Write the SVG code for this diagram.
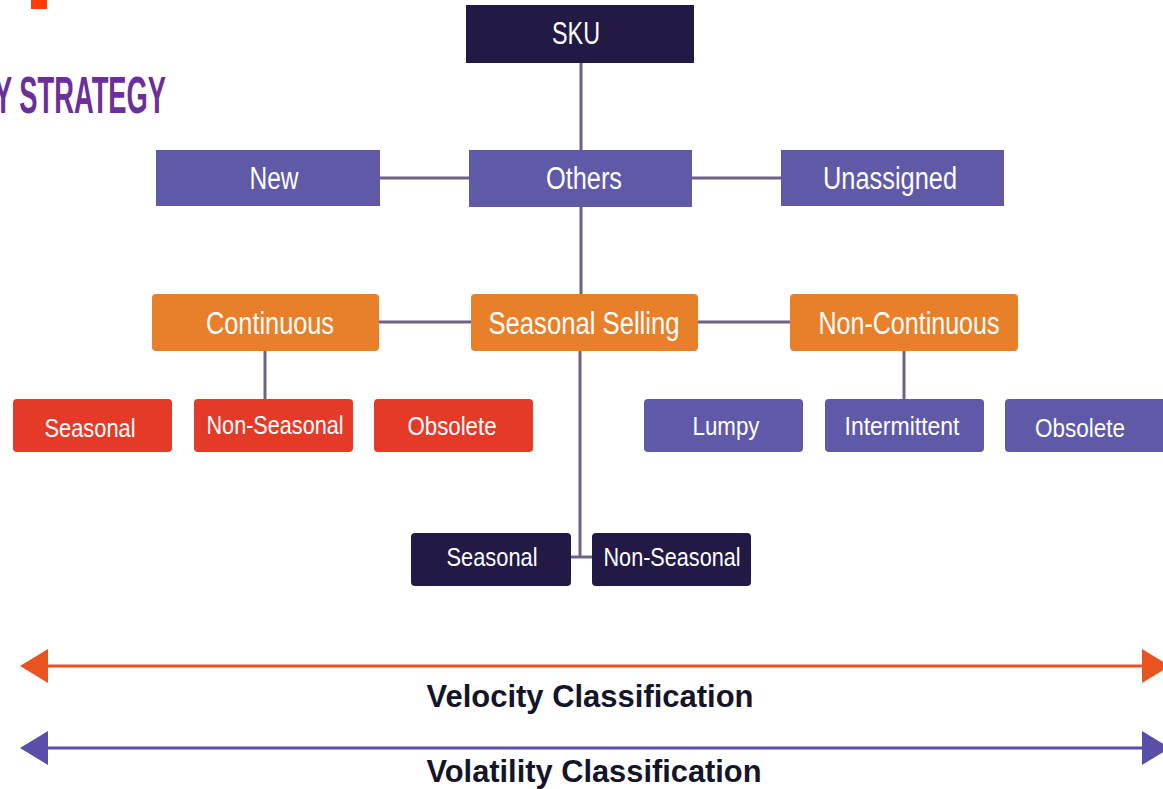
<svg xmlns="http://www.w3.org/2000/svg" width="1163" height="789" viewBox="0 0 1163 789">
<defs>
<style>
.t{font-family:"Liberation Sans Narrow","Liberation Sans",Arial,sans-serif;fill:#fff;text-anchor:middle}
.big{font-size:31px}
.sm{font-size:25px}
.dark{fill:#221a45}
.purp{fill:#5f59a8}
.orng{fill:#e8802a}
.red{fill:#e63a28}
.conn{stroke:#6f6184;stroke-width:3;fill:none}
.lbl{font-family:"Liberation Sans",Arial,sans-serif;font-weight:bold;font-size:31px;fill:#15152a;text-anchor:middle}
</style>
</defs>
<rect width="1163" height="789" fill="#fff"/>
<rect x="31" y="0" width="16" height="9" fill="#ff3b0a"/>
<text x="-6" y="113" textLength="172" lengthAdjust="spacingAndGlyphs" style="font-family:'Liberation Sans',Arial,sans-serif;font-weight:bold;font-size:52px;fill:#6b2f9c">Y STRATEGY</text>

<g id="connectors">
<line class="conn" x1="581" y1="63" x2="581" y2="150"/>
<line class="conn" x1="380" y1="178" x2="469" y2="178"/>
<line class="conn" x1="692" y1="178" x2="781" y2="178"/>
<line class="conn" x1="581" y1="207" x2="581" y2="294"/>
<line class="conn" x1="379" y1="322" x2="471" y2="322"/>
<line class="conn" x1="698" y1="322" x2="790" y2="322"/>
<line class="conn" x1="265" y1="350" x2="265" y2="399"/>
<line class="conn" x1="904" y1="350" x2="904" y2="399"/>
<line class="conn" x1="580" y1="350" x2="580" y2="557"/>
<line class="conn" x1="571" y1="557" x2="592" y2="557"/>
</g>

<g id="sku"><rect class="dark" x="466" y="5" width="228" height="58"/><text class="t big" x="576" y="44" textLength="48" lengthAdjust="spacingAndGlyphs">SKU</text></g>
<g id="new"><rect class="purp" x="156" y="150" width="224" height="56"/><text class="t big" x="274" y="189" textLength="49" lengthAdjust="spacingAndGlyphs">New</text></g>
<g id="others"><rect class="purp" x="469" y="150" width="223" height="57"/><text class="t big" x="584" y="189" textLength="76" lengthAdjust="spacingAndGlyphs">Others</text></g>
<g id="unassigned"><rect class="purp" x="781" y="150" width="223" height="56"/><text class="t big" x="890" y="189" textLength="134" lengthAdjust="spacingAndGlyphs">Unassigned</text></g>

<g id="continuous"><rect class="orng" x="152" y="294" width="227" height="57" rx="4"/><text class="t big" x="270" y="334" textLength="128" lengthAdjust="spacingAndGlyphs">Continuous</text></g>
<g id="seasonal-selling"><rect class="orng" x="471" y="294" width="227" height="57" rx="4"/><text class="t big" x="584" y="334" textLength="191" lengthAdjust="spacingAndGlyphs">Seasonal Selling</text></g>
<g id="non-continuous"><rect class="orng" x="790" y="294" width="228" height="57" rx="4"/><text class="t big" x="909" y="334" textLength="181" lengthAdjust="spacingAndGlyphs">Non-Continuous</text></g>

<g id="vel-seasonal"><rect class="red" x="13" y="399" width="159" height="53" rx="4"/><text class="t sm" x="90" y="437" textLength="91" lengthAdjust="spacingAndGlyphs">Seasonal</text></g>
<g id="vel-non-seasonal"><rect class="red" x="194" y="399" width="159" height="53" rx="4"/><text class="t sm" x="275" y="434" textLength="137" lengthAdjust="spacingAndGlyphs">Non-Seasonal</text></g>
<g id="vel-obsolete"><rect class="red" x="374" y="399" width="159" height="53" rx="4"/><text class="t sm" x="452" y="435" textLength="89" lengthAdjust="spacingAndGlyphs">Obsolete</text></g>

<g id="lumpy"><rect class="purp" x="644" y="399" width="159" height="53" rx="4"/><text class="t sm" x="726" y="435" textLength="67" lengthAdjust="spacingAndGlyphs">Lumpy</text></g>
<g id="intermittent"><rect class="purp" x="825" y="399" width="159" height="53" rx="4"/><text class="t sm" x="902" y="435" textLength="115" lengthAdjust="spacingAndGlyphs">Intermittent</text></g>
<g id="vol-obsolete"><rect class="purp" x="1005" y="399" width="162" height="53" rx="4"/><text class="t sm" x="1080" y="437" textLength="90" lengthAdjust="spacingAndGlyphs">Obsolete</text></g>

<g id="ss-seasonal"><rect class="dark" x="411" y="533" width="160" height="53" rx="4"/><text class="t sm" x="492" y="566" textLength="91" lengthAdjust="spacingAndGlyphs">Seasonal</text></g>
<g id="ss-non-seasonal"><rect class="dark" x="592" y="533" width="159" height="53" rx="4"/><text class="t sm" x="672" y="566" textLength="137" lengthAdjust="spacingAndGlyphs">Non-Seasonal</text></g>

<g id="velocity-axis">
<line x1="46" y1="666" x2="1144" y2="666" stroke="#e8531f" stroke-width="3"/>
<polygon points="20,666 48,649 48,683" fill="#e8531f"/>
<polygon points="1170,666 1142,649 1142,683" fill="#e8531f"/>
<text class="lbl" x="590" y="707" textLength="327" lengthAdjust="spacingAndGlyphs">Velocity Classification</text>
</g>
<g id="volatility-axis">
<line x1="46" y1="748" x2="1144" y2="748" stroke="#5a4fa8" stroke-width="3"/>
<polygon points="20,748 48,731 48,765" fill="#5a4fa8"/>
<polygon points="1170,748 1142,731 1142,765" fill="#5a4fa8"/>
<text class="lbl" x="594" y="782" textLength="335" lengthAdjust="spacingAndGlyphs">Volatility Classification</text>
</g>
</svg>
